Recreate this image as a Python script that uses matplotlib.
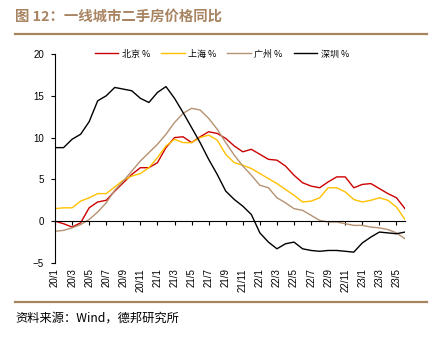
import matplotlib
matplotlib.use("Agg")
import matplotlib.pyplot as plt
from matplotlib.lines import Line2D

plt.rcParams['font.family'] = ['Liberation Sans', 'Noto Sans CJK SC', 'DejaVu Sans']

months = [f"{y}/{m}" for y in (20, 21, 22, 23) for m in range(1, 13)][:42]
tick_labels = ["20/1", "20/3", "20/5", "20/7", "20/9", "20/11",
               "21/1", "21/3", "21/5", "21/7", "21/9", "21/11",
               "22/1", "22/3", "22/5", "22/7", "22/9", "22/11",
               "23/1", "23/3", "23/5"]

beijing = [0.0, -0.3, -0.7, -0.2, 1.6, 2.3, 2.5, 3.6, 4.6, 5.6,
           6.4, 6.4, 7.0, 8.8, 10.0, 10.1, 9.4, 10.1, 10.7, 10.5,
           9.9, 9.0, 8.3, 8.6, 8.0, 7.4, 7.3, 6.6, 5.5, 4.6,
           4.2, 4.0, 4.7, 5.3, 5.3, 4.0, 4.4, 4.5, 3.9, 3.3,
           2.8, 1.5]
shanghai = [1.5, 1.6, 1.6, 2.4, 2.8, 3.3, 3.3, 4.1, 4.9, 5.4,
            5.7, 6.4, 7.6, 9.0, 9.8, 9.4, 9.4, 10.0, 10.3, 9.7,
            8.0, 7.0, 6.7, 6.3, 5.7, 5.1, 4.5, 3.8, 3.1, 2.3,
            2.4, 2.8, 4.0, 4.0, 3.5, 2.6, 2.3, 2.5, 2.8, 2.5,
            1.7, 0.2]
guangzhou = [-1.2, -1.1, -0.8, -0.4, 0.2, 1.1, 2.2, 3.7, 4.8, 6.0,
             7.2, 8.2, 9.2, 10.4, 11.8, 12.9, 13.5, 13.3, 12.3, 11.0,
             9.4, 7.9, 6.6, 5.5, 4.3, 4.0, 2.8, 2.2, 1.5, 1.3,
             0.7, 0.1, -0.1, -0.1, -0.3, -0.5, -0.5, -0.7, -0.8, -1.0,
             -1.4, -2.1]
shenzhen = [8.8, 8.8, 9.8, 10.4, 11.9, 14.4, 15.0, 16.0, 15.8, 15.6,
            14.7, 14.2, 15.4, 16.1, 14.7, 13.0, 11.2, 9.4, 7.4, 5.6,
            3.6, 2.6, 1.8, 0.8, -1.4, -2.5, -3.3, -2.7, -2.5, -3.3,
            -3.5, -3.6, -3.5, -3.5, -3.6, -3.7, -2.6, -1.9, -1.3, -1.4,
            -1.5, -1.3]

series_names = ["北京 %", "上海 %", "广州 %", "深圳 %"]
series_colors = ["#CC0000", "#FFC000", "#B59272", "#000000"]

W, H = 435, 342
fig = plt.figure(figsize=(W / 100, H / 100), dpi=100)
ax = fig.add_axes([55 / W, 1 - 263 / H, 350 / W, 209 / H])

x = list(range(len(months)))
handles = []
for vals, name, col in zip([beijing, shanghai, guangzhou, shenzhen], series_names, series_colors):
    h, = ax.plot(x, vals, color=col, lw=1.0, label=name)
    handles.append(h)

for s in ['top', 'right']:
    ax.spines[s].set_visible(False)
ax.spines['bottom'].set_position(('data', 0))
ax.spines['bottom'].set_linewidth(0.8)
ax.spines['left'].set_linewidth(0.8)

ax.set_xlim(0, len(months) - 1)
ax.set_ylim(-5, 20)
ax.set_yticks([-5, 0, 5, 10, 15, 20])
ax.set_xticks(list(range(0, len(months), 2)))
ax.set_xticklabels(tick_labels, fontsize=7)
ax.tick_params(axis='x', direction='out', length=3, width=0.8, pad=31, labelrotation=90)
ax.tick_params(axis='y', direction='out', length=3, width=0.8, pad=5, labelsize=7)
for lab in ax.get_xticklabels():
    lab.set_va('top')
    lab.set_ha('center')

fig.legend(handles=handles, loc='center', bbox_to_anchor=(222 / W, 1 - 54 / H),
           ncol=4, frameon=False, handlelength=2.6, handletextpad=0.4,
           columnspacing=1.2, prop={'family': ['Noto Sans CJK SC', 'DejaVu Sans'], 'size': 6.5})

title_color = '#A88462'
fig.text(15 / W, 1 - 17 / H, '图 12：一线城市二手房价格同比', fontsize=10.4, weight='bold',
         color=title_color, va='center', ha='left',
         family=['Noto Sans CJK SC', 'DejaVu Sans'])
fig.add_artist(Line2D([15 / W, 427 / W], [1 - 34 / H] * 2, color=title_color, lw=1.6))
fig.add_artist(Line2D([15 / W, 427 / W], [1 - 302 / H] * 2, color=title_color, lw=1.6))
fig.text(15 / W, 1 - 318 / H, '资料来源：Wind，德邦研究所', fontsize=8.8, color='black',
         va='center', ha='left', family=['Noto Sans CJK SC', 'DejaVu Sans'])

fig.savefig('out.png', dpi=100)
